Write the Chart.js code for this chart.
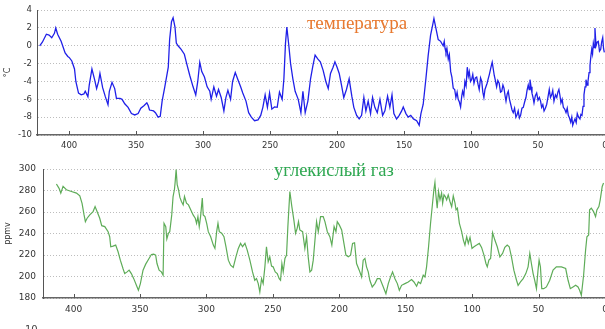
<!DOCTYPE html>
<html>
<head>
<meta charset="utf-8">
<script src="https://cdn.jsdelivr.net/npm/chart.js@4"></script>
<style>
  html, body { margin: 0; padding: 0; background: #fff; }
  body { width: 605px; height: 329px; overflow: hidden; position: relative; }
  canvas { position: absolute; left: 0; }
  #tempChart { top: 0; }
  #co2Chart { top: 155px; }
  .note { position: absolute; font-family: 'Liberation Serif', 'Times New Roman', serif; white-space: nowrap; line-height: 1; }
  #tempNote { left: 307px; top: 13px; font-size: 19px; color: #e8792f; }
  #co2Note { left: 274px; top: 161px; font-size: 18.5px; color: #2fa852; }
  #corner { position: absolute; left: 25px; top: 324px; font: 10px 'DejaVu Sans', sans-serif; color: #444; }
</style>
</head>
<body>
<canvas id="tempChart" width="620" height="155"></canvas>
<canvas id="co2Chart" width="620" height="174"></canvas>
<div class="note" id="tempNote">температура</div>
<div class="note" id="co2Note">углекислый газ</div>
<div id="corner">10</div>
<script>
// thousand years before present
const xTicks = [400, 350, 300, 250, 200, 150, 100, 50, 0];
const tempTicks = [4, 2, 0, -2, -4, -6, -8, -10];
const co2Ticks = [300, 280, 260, 240, 220, 200, 180];

// temperature anomaly, °C
const tempAge = [
  422, 420, 417, 415, 413, 411, 410, 408.6, 406, 403, 401, 400, 398, 396, 395, 393, 391, 389, 388, 386,
  385, 383, 381, 379.5, 378, 377, 375, 373, 371, 370, 368, 366, 364.7, 362, 360.5, 358.5, 356, 353.5, 351, 348.5,
  346.5, 344, 342, 341, 340, 337, 335.6, 333.6, 332, 330.6, 328.6, 326, 325, 323.6, 322.4, 321, 320, 318.7, 316.4, 314,
  312.5, 310, 307.5, 305.5, 304, 302.5, 301, 299, 297, 295, 294, 292, 290, 288.5, 286.5, 284.5, 283, 281.5, 279.5, 278,
  276, 274, 272, 270.4, 268, 266, 264, 261.6, 259, 257, 255.4, 253.7, 252, 250.4, 248.7, 246.7, 244.7, 243, 241, 239.7,
  238.5, 237.5, 236, 234.7, 233, 231.3, 229, 227, 225.5, 223.8, 221.8, 219.8, 218, 216.4, 214.3, 212.5, 210.4, 208.4, 206.6, 204.9,
  203, 201.6, 200, 198.4, 196.7, 195, 193, 191, 189, 187.5, 185.4, 183.5, 181.7, 180, 178.5, 176.8, 175, 173.5, 171.8, 170,
  168, 166, 164.3, 162.3, 160.6, 159, 157.6, 155.6, 153.6, 151.8, 150.6, 148.6, 146.9, 145, 143, 140.6, 138.7, 137.4, 135.7, 133.7,
  132, 130.2, 128.7, 127.7, 126.2, 124.5, 122.7, 120.8, 120, 119.4, 118.7, 118, 117, 116.2, 115.2, 114.3, 113.3, 112.2, 111.3, 110.4,
  109.6, 108.7, 107.8, 106.9, 106.3, 105.4, 104.6, 103.7, 102.8, 102, 101.3, 100.4, 99.6, 98.7, 97.8, 96.8, 95.8, 94.8, 93.9, 92.9,
  92, 91.2, 90.4, 89.6, 88.9, 88, 87.2, 86.3, 85.4, 84.8, 84.2, 83.4, 82.7, 81.8, 80.9, 80, 79, 78, 77.1, 76.2,
  75.4, 74.6, 73.9, 73, 72.2, 71.3, 70.4, 69.4, 68.5, 67.5, 66.5, 65.6, 64.8, 63.9, 63, 62, 61, 60, 59, 58.2,
  57.3, 56.6, 56, 55.2, 54.5, 53.7, 53, 52, 51, 50, 49, 48.1, 47.3, 46.4, 45.5, 44.5, 43.5, 42.5, 41.6, 40.7,
  39.8, 39, 38.1, 37, 36, 35.2, 34.4, 33.6, 32.9, 32, 31.1, 30.1, 29.1, 28.2, 27.4, 26.5, 25.6, 24.8, 24.1, 23.2,
  22.4, 21.5, 20.7, 19.7, 18.7, 18, 17.2, 16.4, 15.7, 14.9, 14.2, 13.4, 12.7, 11.9, 11.2, 10.5, 9.9, 9.3, 8.7, 8.1,
  7.5, 6.7, 5.9, 5, 4.1, 3.2, 2.5, 1.7, 1.1, 0.5
];
const tempC = [
  0.0, 0.4, 1.3, 1.2, 0.9, 1.4, 2.0, 1.3, 0.5, -0.8, -1.2, -1.3, -1.7, -2.6, -4.0, -5.3, -5.5, -5.4, -5.1, -5.7,
  -4.4, -2.6, -3.8, -4.8, -4.0, -3.1, -4.7, -5.7, -6.6, -5.1, -4.1, -4.8, -5.9, -5.9, -6.0, -6.5, -6.9, -7.6, -7.75, -7.6,
  -7.0, -6.7, -6.4, -6.7, -7.2, -7.3, -7.5, -8.0, -7.9, -6.2, -4.6, -2.4, 0.7, 2.7, 3.15, 2.1, 0.3, 0.0, -0.4, -0.95,
  -1.85, -3.3, -4.6, -5.5, -4.0, -1.85, -2.9, -3.5, -4.6, -5.1, -6.0, -4.6, -5.65, -4.9, -5.8, -7.3, -5.8, -5.0, -6.0, -4.0,
  -3.0, -3.8, -4.6, -5.3, -6.2, -7.5, -8.0, -8.4, -8.3, -7.8, -6.9, -5.5, -6.9, -5.3, -7.1, -6.85, -6.9, -5.2, -6.0, -3.7,
  0.3, 2.1, 0.0, -2.0, -3.7, -5.1, -6.0, -7.5, -5.1, -7.5, -6.2, -3.7, -2.2, -1.05, -1.5, -1.8, -2.75, -4.0, -4.8, -3.1,
  -2.4, -1.8, -2.4, -3.1, -4.4, -5.8, -4.9, -3.7, -5.65, -6.9, -7.8, -8.2, -7.8, -5.8, -7.3, -6.2, -7.6, -5.8, -6.9, -7.5,
  -6.0, -7.8, -7.3, -5.65, -6.9, -5.5, -7.6, -8.2, -7.8, -7.3, -6.85, -7.6, -8.0, -7.8, -8.2, -8.4, -8.9, -7.6, -6.55, -3.7,
  -1.1, 1.2, 2.3, 3.05, 1.95, 0.7, 0.5, 0.0, 0.5, -0.3, -0.75, -0.3, -1.5, -1.0, -2.9, -3.5, -4.75, -4.9, -5.8, -5.2,
  -6.0, -6.3, -6.85, -5.6, -5.1, -5.6, -4.0, -4.5, -2.4, -3.4, -2.9, -4.0, -3.8, -3.2, -4.2, -3.6, -3.5, -4.3, -4.9, -3.6,
  -4.0, -5.2, -5.8, -4.9, -4.6, -4.2, -3.7, -3.2, -2.6, -2.2, -1.85, -2.6, -3.3, -3.9, -4.6, -3.9, -4.2, -5.2, -5.1, -4.4,
  -4.75, -5.6, -6.2, -5.4, -5.1, -6.0, -6.55, -7.2, -7.5, -7.0, -8.0, -7.7, -7.3, -8.1, -7.8, -7.0, -6.9, -6.3, -5.8, -5.0,
  -4.4, -4.9, -3.8, -4.6, -5.3, -5.8, -6.4, -5.6, -5.3, -6.1, -5.8, -6.2, -6.9, -6.6, -7.3, -7.0, -6.55, -5.7, -4.9, -5.8,
  -5.5, -5.0, -6.2, -5.5, -5.8, -5.2, -4.9, -5.6, -6.4, -6.0, -6.9, -7.1, -7.5, -7.0, -7.8, -8.1, -8.55, -8.0, -8.9, -8.5,
  -8.2, -8.6, -7.6, -8.0, -8.2, -7.7, -7.8, -6.8, -5.5, -4.6, -3.8, -4.4, -4.0, -3.0, -2.2, -1.1, -0.4, -0.9, 0.3, -0.2,
  2.0, 0.0, 0.4, 0.5, -0.6, -0.4, 0.4, 0.9, -0.3, -0.75
];

// CO2 concentration, ppmv
const co2Age = [
  412.9, 410.9, 409.6, 407.9, 405.4, 401.6, 397.8, 395.3, 393.6, 392.1, 391.1, 389.8, 387.8, 385.3, 383.8, 382.3, 380.3, 378.8, 376.5, 374,
  372.8, 372, 370.3, 368.3, 366.5, 364.8, 362.8, 361.5, 359.7, 358.2, 356.5, 354.7, 352.7, 351.2, 349.7, 347.7, 345.7, 343.2, 341.4, 339.7,
  338.2, 337.2, 335.6, 333.9, 332.6, 331.9, 330.6, 329.8, 328.6, 327.6, 326.1, 325.1, 324.1, 323.6, 322.8, 322, 321, 320, 318.8, 317.5,
  316.5, 315, 313.5, 312, 310, 308.4, 307.4, 306.4, 305.4, 304.4, 303.1, 302.4, 301.1, 299.8, 298.6, 296.8, 294.8, 293.6, 292.3, 291.3,
  290.3, 288.5, 286.8, 285.3, 283.5, 281.8, 279.8, 277.8, 276, 274.3, 272.8, 271, 269.3, 267.3, 265.3, 263.6, 262.3, 261, 259.8, 258.5,
  257.3, 256, 254.8, 253.5, 252.3, 251, 249.8, 248.2, 246.7, 245.2, 244.2, 243.2, 242.2, 240.9, 239.7, 238.7, 237.2, 235.7, 234.2, 232.9,
  231.7, 230.7, 229.7, 227.6, 225.9, 224.6, 223.4, 222.1, 220.8, 219.6, 218.3, 217.1, 215.8, 214.1, 212.1, 210.8, 209, 207.1, 205.6, 203.9,
  202.5, 201.5, 200, 198.2, 196.5, 195, 193.2, 191.5, 190, 188.5, 187, 185, 183.2, 182, 180.7, 179.5, 178.2, 177, 175.2, 173.2,
  171.4, 169.4, 167.4, 164.9, 163.1, 161.4, 159.9, 158.1, 156.3, 154.8, 153.1, 150.6, 148.1, 145.6, 143.8, 141.8, 140.5, 138.8, 136.8, 135.5,
  134.3, 132.8, 131.3, 129.8, 128.8, 128, 127.3, 126.3, 125.3, 124.2, 123, 122.2, 121.2, 120.2, 119.2, 118, 116.7, 115.4, 114.2, 112.9,
  112.1, 111.1, 109.6, 107.9, 106.6, 105.4, 104.1, 102.9, 101.6, 100.1, 98.6, 96.6, 94.6, 92.9, 91.1, 89.6, 88.6, 87.4, 86.1, 84.6,
  82.9, 81.1, 79.1, 77.1, 75.4, 73.6, 72.1, 70.4, 68.6, 66.6, 65.4, 63.6, 61.6, 59.6, 57.9, 56.6, 55.4, 54.1, 52.9, 51.6,
  50.4, 49.6, 48.6, 47.6, 46.1, 44.1, 41.6, 39.1, 36.6, 32.8, 29.6, 27.8, 26.1, 24.1, 22.1, 20.3, 19.1, 17.8, 16.1, 14.6,
  13.6, 12.3, 11.6, 10.3, 8.6, 7.1, 6.1, 4.6, 3.6, 2.1, 1.1
];
const co2Ppm = [
  286, 282, 277.6, 283.8, 280.7, 279.1, 277.6, 275, 268, 257.3, 251, 254.2, 257.3, 260.4, 265, 260.4, 254.2, 247.3, 246.4, 241.7,
  237, 227.7, 228.3, 229.2, 223, 215.2, 207.4, 202.7, 204.3, 205.9, 202.7, 198, 191.8, 187.2, 193.4, 205.9, 211.5, 216.8, 220.5, 220.8,
  219.9, 212.1, 205.9, 204.3, 201.2, 249.5, 246.4, 234.9, 240.2, 241.7, 257.3, 274.4, 280.7, 286.9, 299.4, 285.4, 280.7, 273.8, 269.8, 266.6,
  274.4, 268.2, 266.6, 262.6, 257.3, 254.2, 249.5, 255.7, 246.4, 255.7, 272.9, 257.3, 255.7, 249.5, 241.7, 237, 229.2, 226.1, 241.7, 249.5,
  241.7, 240.2, 237, 227.7, 215.2, 210.5, 208.4, 218.3, 226.1, 230.8, 227.7, 230.8, 224.6, 215.2, 204.3, 196.5, 198, 193.4, 185.6, 198,
  193.4, 209, 227.7, 213.7, 218.3, 209.6, 209, 204.3, 202.7, 198, 196.5, 212.1, 204.3, 216.8, 220, 246.4, 279.1, 265, 252.6, 240.2,
  244.8, 251, 243.3, 241.7, 226.1, 237, 218.3, 204.3, 205.9, 215.2, 233.9, 251, 241.7, 255.7, 255.7, 251, 241.7, 237, 229.2, 246.4,
  241.7, 251, 248, 243.3, 230.8, 219.9, 218.3, 219.9, 230.8, 231.4, 212.1, 205.9, 199.6, 215.2, 216.8, 209, 204.3, 196.5, 190.3, 193.4,
  198, 198, 191.8, 184, 193.4, 199.6, 204.3, 198, 193.4, 187.2, 191.8, 193.4, 194.9, 197.1, 194.9, 190.9, 194.9, 193.4, 201.2, 199.6,
  209, 227.7, 249.5, 268.2, 280.7, 287.5, 276, 263.5, 279.1, 271.3, 277.6, 268.2, 276, 274.4, 271.3, 276, 269.8, 265, 275, 268.2,
  262, 263.5, 249.5, 241.7, 233.9, 229.2, 237, 230.8, 236.4, 226.1, 227.7, 229.2, 230.8, 227.1, 219.9, 212.1, 209, 215.2, 216.8, 240.8,
  233.9, 227.7, 218.3, 221.4, 227.1, 229.2, 227.7, 218.3, 205.9, 196.5, 191.8, 194.9, 198, 202.7, 209, 221.4, 212.1, 202.7, 196.5, 188.7,
  205.9, 215.2, 209, 188.7, 188.7, 190.3, 196.5, 205.9, 209, 209, 207.4, 196.5, 188.7, 190.3, 191.8, 190.3, 187.2, 182.5, 201.2, 224.6,
  237, 238.6, 262, 263.5, 260.4, 255.7, 262, 265, 271.3, 283.8, 286.9
];

// short tick marks standing up from the bottom axis
const innerTicks = {
  id: 'innerTicks',
  afterDraw(chart) {
    const { ctx, chartArea } = chart;
    const x = chart.scales.x;
    ctx.save();
    ctx.strokeStyle = '#555';
    ctx.lineWidth = 1;
    x.ticks.forEach(t => {
      const px = Math.round(x.getPixelForValue(t.value)) + 0.5;
      ctx.beginPath();
      ctx.moveTo(px, chartArea.bottom);
      ctx.lineTo(px, chartArea.bottom - 4);
      ctx.stroke();
    });
    ctx.restore();
  }
};

const axisFont = size => ({ family: "'DejaVu Sans', sans-serif", size: size });

function panel(canvas, ages, values, color, cfg) {
  return new Chart(canvas, {
    type: 'line',
    data: {
      datasets: [{
        data: ages.map((a, i) => ({ x: a, y: values[i] })),
        borderColor: color,
        borderWidth: cfg.lineWidth,
        pointRadius: 0,
        tension: 0
      }]
    },
    options: {
      responsive: false,
      animation: false,
      layout: { padding: { top: cfg.top, right: 15, left: 0, bottom: 0 } },
      plugins: { legend: { display: false }, tooltip: { enabled: false } },
      scales: {
        x: {
          type: 'linear',
          reverse: true,
          min: 0,
          max: cfg.xMax,
          afterBuildTicks: s => { s.ticks = xTicks.map(v => ({ value: v })); },
          afterFit: s => { s.height = cfg.xHeight; },
          grid: { display: false, drawTicks: false },
          border: { color: '#666', width: 1.5 },
          ticks: { color: '#333', padding: cfg.xPad, font: axisFont(cfg.fontSize), maxRotation: 0, autoSkip: false }
        },
        y: {
          min: cfg.yTicks[cfg.yTicks.length - 1],
          max: cfg.yTicks[0],
          afterBuildTicks: s => { s.ticks = cfg.yTicks.map(v => ({ value: v })); },
          afterFit: s => { s.width = cfg.yWidth; },
          grid: { color: '#bdbdbd', drawTicks: false },
          border: { color: '#555', width: 1, dash: [1, 2] },
          ticks: { color: '#333', padding: cfg.yPad, font: axisFont(cfg.fontSize) },
          title: { display: true, text: cfg.unit, color: '#333', font: axisFont(8), padding: { top: 3, bottom: 0 } }
        }
      }
    },
    plugins: [innerTicks]
  });
}

panel(document.getElementById('tempChart'), tempAge, tempC, '#2020e8', {
  yTicks: tempTicks, unit: '°C', top: 6, xMax: 424, xHeight: 20, xPad: 6,
  yWidth: 37, yPad: 5, fontSize: 8.5, lineWidth: 1.3
});

panel(document.getElementById('co2Chart'), co2Age, co2Ppm, '#5eac58', {
  yTicks: co2Ticks, unit: 'ppmv', top: 14, xMax: 423, xHeight: 31, xPad: 6,
  yWidth: 43, yPad: 7, fontSize: 9, lineWidth: 1.2
});
</script>
</body>
</html>
